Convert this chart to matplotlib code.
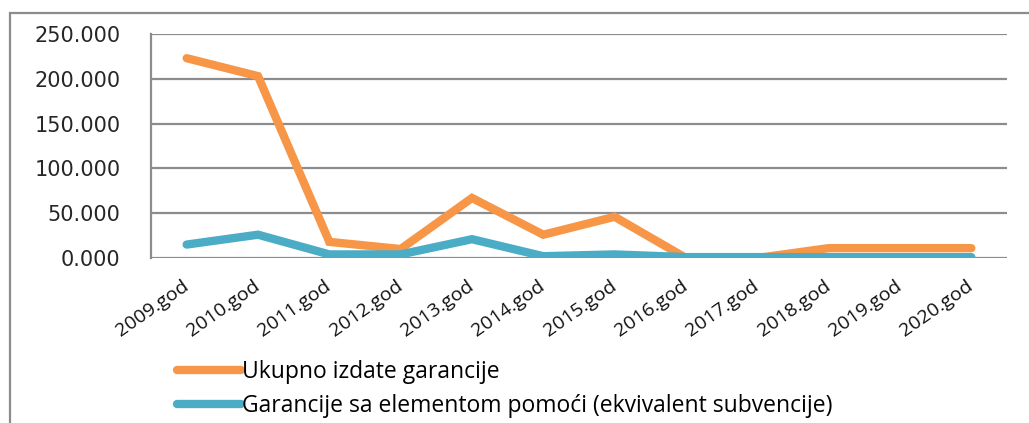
import matplotlib
matplotlib.use("Agg")
from matplotlib import pyplot as plt
from matplotlib.patches import Rectangle

years = ["2009.god", "2010.god", "2011.god", "2012.god", "2013.god", "2014.god",
         "2015.god", "2016.god", "2017.god", "2018.god", "2019.god", "2020.god"]
ukupno = [223, 203, 18, 10, 67, 26, 46, 0, 0, 11, 11, 11]
pomoc = [15, 26, 4, 4, 21, 2, 4, 1, 1, 1, 1, 1]
yticks = [0, 50, 100, 150, 200, 250]

ORANGE = "#F79646"
BLUE = "#4BACC6"
GRID = "#8C8C8C"
LABEL_FONT = ["Open Sans", "DejaVu Sans"]

fig = plt.figure(figsize=(10.29, 4.23), dpi=100)
ax = fig.add_axes([151 / 1029, 1 - 258 / 423, (1007 - 151) / 1029, (258 - 34) / 423])

# outer chart border (partly cut off in the reference)
fig.patches.append(Rectangle((10 / 1029, -0.1), 1.2, (423 - 13) / 423 + 0.1,
                             transform=fig.transFigure, fill=False,
                             edgecolor=GRID, linewidth=1.6))

x = list(range(len(years)))
ax.plot(x, ukupno, color=ORANGE, lw=6, solid_capstyle="round",
        solid_joinstyle="miter", label="Ukupno izdate garancije", zorder=3)
ax.plot(x, pomoc, color=BLUE, lw=6, solid_capstyle="round",
        solid_joinstyle="miter",
        label="Garancije sa elementom pomoći (ekvivalent subvencije)", zorder=3)

ax.set_xlim(-0.5, len(years) - 0.5)
ax.set_ylim(0, 250)
ax.set_yticks(yticks)
ax.set_yticklabels([f"{v:.3f}" for v in yticks], fontsize=15,
                   family="DejaVu Sans", color="#262626")
ax.set_xticks(x)
ax.set_xticklabels(years, rotation=35, ha="right", va="center",
                   rotation_mode="anchor", fontsize=14, family=LABEL_FONT,
                   color="#111111")
ax.tick_params(axis="both", length=0)
ax.tick_params(axis="y", pad=22)
ax.tick_params(axis="x", pad=19)

ax.grid(axis="y", color=GRID, lw=1.6)
ax.set_axisbelow(True)
for s in ["top", "right", "bottom"]:
    ax.spines[s].set_visible(False)
ax.spines["left"].set_color(GRID)
ax.spines["left"].set_linewidth(1.6)

fig.legend(loc="upper left", bbox_to_anchor=(168 / 1029, 1 - 351 / 423),
           frameon=False, handlelength=2.8, handletextpad=0.05,
           labelspacing=0.45, borderaxespad=0.0,
           prop={"family": LABEL_FONT, "size": 16.5})

fig.savefig("out.png", dpi=100)
